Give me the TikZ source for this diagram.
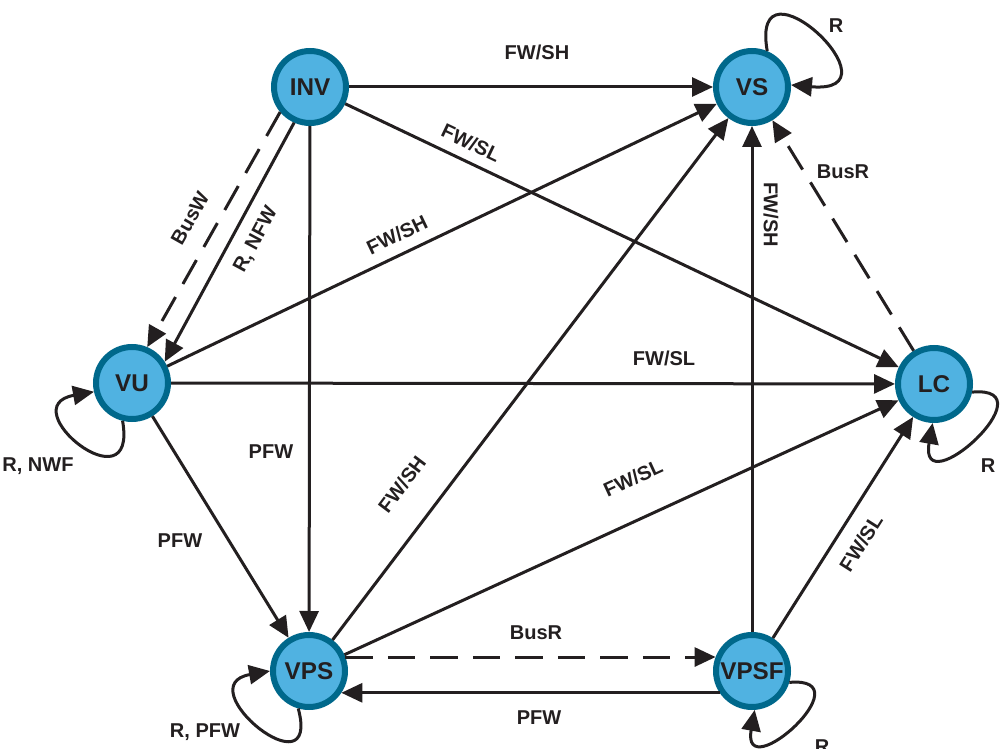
\documentclass[tikz,border=0pt]{standalone}
\usepackage{fontspec}
\setmainfont{Liberation Sans}
\usetikzlibrary{arrows.meta}
\definecolor{statefill}{RGB}{80,178,225}
\definecolor{stateedge}{RGB}{0,104,139}
\definecolor{ink}{RGB}{35,31,32}
\begin{document}
\begin{tikzpicture}[x=0.2mm,y=0.2mm,
  state/.style={circle, draw=stateedge, fill=statefill, line width=1.2mm,
    minimum size=14.4mm, inner sep=0pt, text=ink,
    font=\fontsize{13.8}{15}\selectfont\bfseries},
  trans/.style={draw=ink, line width=0.6mm,
    -{Triangle[length=4.2mm,width=3.8mm]}},
  bus/.style={trans, dash pattern=on 5.5mm off 3mm},
  lbl/.style={font=\fontsize{11.4}{13}\selectfont\bfseries, text=ink, inner sep=0pt}]
\useasboundingbox (0,0) rectangle (1000,-749);

% states
\node[state] (INV)  at (310,-87)  {INV};
\node[state] (VS)   at (752,-87)  {VS};
\node[state] (VU)   at (132,-383) {VU};
\node[state] (LC)   at (934,-384) {LC};
\node[state] (VPS)  at (309,-671) {VPS};
\node[state] (VPSF) at (752,-671) {VPSF};

% transitions
\draw[trans] (INV) -- (VS);
\draw[trans] (INV) -- (LC);
\draw[bus]   (INV.220) -- (VU.67);
\draw[trans] (INV.246) -- (VU.33);
\draw[trans] (INV) -- (VPS);
\draw[trans] (VU) -- (VS);
\draw[trans] (VU) -- (LC);
\draw[trans] (VU) -- (VPS);
\draw[trans] (VPS) -- (VS);
\draw[trans] (VPS) -- (LC);
\draw[bus]   (VPS.21) -- (VPSF.159);
\draw[trans] (VPSF.214) -- (VPS.-34);
\draw[trans] (VPSF) -- (VS);
\draw[trans] (VPSF) -- (LC);
\draw[bus]   (LC) -- (VS);

% self loops
\draw[trans] (VS.67) .. controls +(100:105) and +(-5:115) .. (VS.3);
\draw[trans] (VU.256) .. controls +(-80:90) and +(190:85) .. (VU.193);
\draw[trans] (VPS.254) .. controls +(-75:90) and +(190:85) .. (VPS.180);
\draw[trans] (LC.-12) .. controls +(5:80) and +(-100:85) .. (LC.-92);
\draw[trans] (VPSF.-17) .. controls +(5:78) and +(-100:80) .. (VPSF.-86);

% labels
\node[lbl] (l1)  at (537,-52)  {FW/SH};
\node[lbl, rotate=-25.5] (l2) at (471,-143) {FW/SL};
\node[lbl, rotate=60.5] (l3) at (190,-218) {BusW};
\node[lbl, rotate=61.7] (l4) at (256,-240) {R, NFW};
\node[lbl, rotate=25.5] (l5) at (397,-235) {FW/SH};
\node[lbl] (l6)  at (664,-358) {FW/SL};
\node[lbl] (l7)  at (271,-452) {PFW};
\node[lbl] (l8)  at (180,-541) {PFW};
\node[lbl, rotate=53] (l9) at (402,-484) {FW/SH};
\node[lbl, rotate=24.7] (l10) at (633,-478) {FW/SL};
\node[lbl] (l11) at (536,-633) {BusR};
\node[lbl] (l12) at (539,-718) {PFW};
\node[lbl, rotate=-90] (l13) at (771,-215) {FW/SH};
\node[lbl, rotate=57.5] (l14) at (861,-543) {FW/SL};
\node[lbl] (l15) at (843,-172) {BusR};
\node[lbl] (l16) at (836,-26)  {R};
\node[lbl] (l17) at (38,-466)  {R, NWF};
\node[lbl] (l18) at (988,-466) {R};
\node[lbl] (l19) at (205,-732) {R, PFW};
\node[lbl] (l20) at (822,-747) {R};
\end{tikzpicture}
\end{document}
